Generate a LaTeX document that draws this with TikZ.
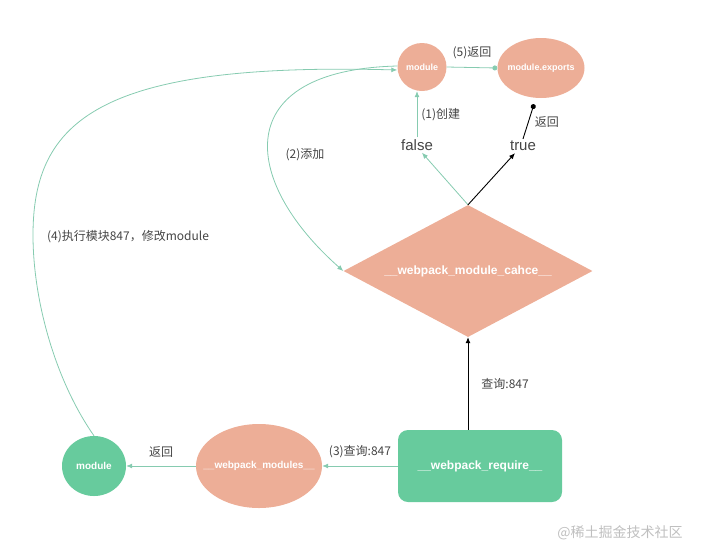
\documentclass[tikz,border=0pt]{standalone}
\usepackage{fontspec}
\setmainfont{Liberation Sans}
\newfontfamily\cjk{Noto Sans CJK SC}
\usepackage{tikz}
\usetikzlibrary{arrows.meta,shapes.geometric,positioning,calc}
\definecolor{salmon}{HTML}{EDAE97}
\definecolor{mint}{HTML}{67CB9D}
\definecolor{linkgreen}{HTML}{86CBB0}
\definecolor{txtgray}{HTML}{444444}

\begin{document}
\begin{tikzpicture}[
  x=1pt, y=-1pt,
  salmon node/.style={ellipse, fill=salmon, draw=none, inner sep=0pt, text=white, font=\bfseries\fontsize{9}{10}\selectfont},
  mint node/.style={ellipse, fill=mint, draw=none, inner sep=0pt, text=white, font=\bfseries\fontsize{10}{11}\selectfont},
  word/.style={text=txtgray, inner sep=2pt, font=\fontsize{15}{17}\selectfont},
  edge label/.style={text=txtgray, inner sep=1pt, font=\cjk\fontsize{12}{14}\selectfont},
  green link/.style={draw=linkgreen, line width=0.8pt},
  black link/.style={draw=black, line width=0.9pt},
  >={Latex[length=6pt,width=5pt]}
]
  \useasboundingbox (0,0) rectangle (701,558);

  % upper part
  \node[salmon node, minimum width=49pt, minimum height=48pt] (m1) at (422,67) {module};
  \node[salmon node, inner xsep=-20pt, minimum width=87pt, minimum height=60pt] (exports) at (541,68) {module.exports};
  \node[word] (false) at (417,145) {false};
  \node[word] (true) at (523,146) {true};
  \node[diamond, fill=salmon, inner sep=0pt, aspect=1.9, minimum width=249pt, minimum height=132pt,
        text=white, font=\bfseries\fontsize{12}{14}\selectfont] (cache) at (468,271) {\_\_webpack\_module\_cahce\_\_};

  % lower part
  \node[mint node, minimum width=64pt, minimum height=60pt] (m2) at (94,466) {module};
  \node[salmon node, inner xsep=-25pt, minimum width=126pt, minimum height=84pt, font=\bfseries\fontsize{10}{11}\selectfont] (modules) at (259,466) {\_\_webpack\_modules\_\_};
  \node[rectangle, rounded corners=10pt, fill=mint, minimum width=164pt, minimum height=72pt,
        text=white, font=\bfseries\fontsize{12}{14}\selectfont] (require) at (480,466) {\_\_webpack\_require\_\_};

  \draw[green link, -{Circle[length=5pt]}] (m1.east) -- node[edge label, above=7pt] {(5)返回} (exports.west);
  \draw[green link, ->] (false.north) -- node[edge label, right=3pt] {(1)创建} (false.north |- m1.south);
  \draw[black link, -{Circle[length=5pt]}] (true.north) -- node[edge label, right=5pt] {返回} ([shift={(-7,6)}]exports.south);
  \draw[green link, ->] (cache.north) -- ([xshift=5pt]false.south);
  \draw[black link, ->] (cache.north) -- ([xshift=-8pt]true.south);

  \draw[green link, ->] ([yshift=1pt]m1.west) .. controls (230,70) and (240,180) .. (cache.west);
  \node[edge label] (add) at (305,155) {(2)添加};

  \draw[green link, ->] (m2.north) .. controls (55,380) and (33,300) .. (33,235)
    .. controls (33,120) and (100,62) .. ([yshift=-3pt]m1.west);
  \node[edge label] (exec) at (128,237) {(4)执行模块847，修改module};

  \draw[black link, ->] (cache.south |- require.north) -- node[edge label, right=12pt] {查询:847} (cache.south);
  \draw[green link, ->] (require.west) -- node[edge label, above=7pt] {(3)查询:847} (modules.east);
  \draw[green link, ->] (modules.west) -- node[edge label, above=7pt] {返回} (m2.east);

  \node[text=black!25, font=\cjk\fontsize{14}{16}\selectfont] (mark) at (620,533) {@稀土掘金技术社区};
\end{tikzpicture}
\end{document}
